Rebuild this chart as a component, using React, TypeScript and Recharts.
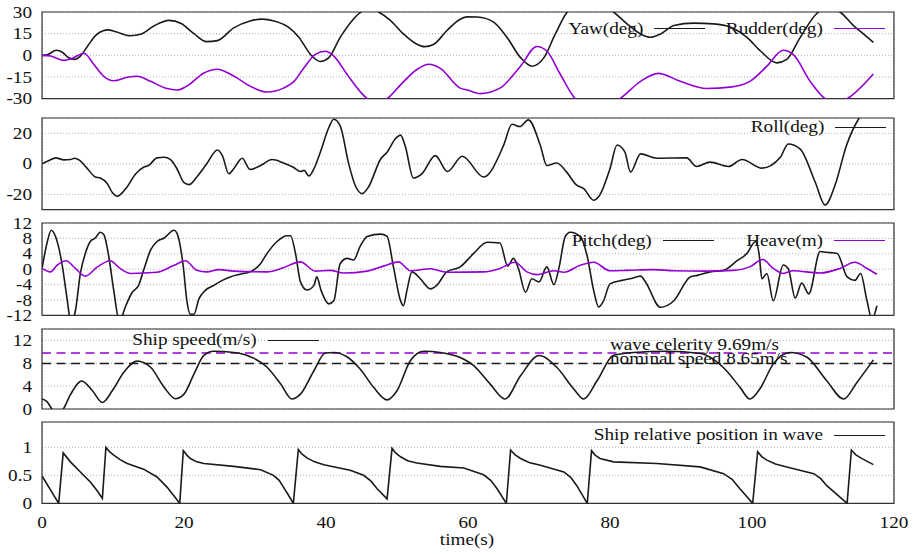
import React from 'react';
import { LineChart, Line, XAxis, YAxis, CartesianGrid, ReferenceArea, ReferenceLine } from 'recharts';

type P = [number, number];

// ---------- data (time s, value) ----------
const timeTicks = [0, 20, 40, 60, 80, 100, 120];
const yawTicks = [-30, -15, 0, 15, 30];
const rollTicks = [-20, 0, 20];
const pitchTicks = [-12, -8, -4, 0, 4, 8, 12];
const speedTicks = [0, 4, 8, 12];
const posTicks = [0, 0.5, 1];

const yawDeg: P[] = [
  [0, 0], [0.8, 0.5], [2.0, 3.5], [2.9, 2], [3.7, -1.5], [4.6, -2.8], [5.4, -0.5], [6.5, 7], [7.6, 14], [8.6, 17],
  [9.3, 17.6], [10.4, 16.3], [12.4, 13.6], [14.0, 14.8], [15.8, 20.5], [17.9, 24.2], [19.6, 22], [21.4, 15], [23.2, 9.5],
  [24.7, 10.2], [27.0, 19], [29.3, 23.8], [31.0, 25.1], [32.7, 23.8], [34.7, 19.5], [36.2, 12.4], [37.8, 0.7], [39.2, -4.3],
  [40.4, -1.6], [42.0, 12.4], [43.7, 24.1], [44.8, 29.5], [46.1, 32.5], [47.4, 30], [49.1, 24.1], [50.9, 14.8], [52.8, 7.7],
  [53.9, 6], [55.2, 7.7], [57.0, 17], [58.9, 25], [59.9, 26.6], [61.3, 26.5], [63.6, 23], [65.5, 12.4], [67.4, -1.6],
  [69.0, -7.5], [70.7, -1.6], [72.3, 14.8], [73.9, 29.5], [75.5, 36], [77.2, 38], [79.0, 35], [80.5, 30], [82.4, 21.8],
  [84.3, 14.8], [85.7, 12.5], [87.2, 15], [89.0, 20.6], [91.8, 22.3], [94.6, 21.8], [97.0, 19.5], [99.3, 12.4], [101.2, 3],
  [103.5, -5.2], [104.9, -2.8], [106.8, 12.4], [109.1, 28.8], [110.8, 33], [112.4, 30], [114.3, 20.6], [115.7, 14.8], [117.1, 8.9],
];
const rudderDeg: P[] = [
  [0, 0], [1.2, -0.5], [3.1, -3.5], [4.2, -2.2], [5.9, 1.5], [7.3, -6.3], [8.7, -14.5], [10.1, -17.6], [12.0, -15.2],
  [13.4, -14.5], [15.3, -18], [17.6, -23], [19.0, -24], [20.4, -21.3], [22.8, -12.2], [24.7, -9.6], [27.0, -14.3],
  [29.3, -21.3], [31.7, -25.4], [34.0, -22.7], [35.5, -18], [36.9, -8.6], [38.5, 0.7], [39.9, 2.8], [41.1, -0.5],
  [43.0, -13.4], [44.8, -25], [45.8, -30], [47.2, -33], [48.6, -30], [50.5, -20.4], [52.8, -9.8], [54.5, -6.2], [56.1, -9],
  [58.9, -22.7], [59.9, -24], [61.7, -26.5], [64.5, -22.7], [67.4, -7.5], [69.7, 6.1], [71.1, 3], [73.0, -13.1], [75.1, -30],
  [78.2, -38], [81.4, -30], [84.3, -18], [86.8, -12.5], [89.9, -18], [93.6, -23], [96.9, -22], [99.7, -18], [102.1, -7.5],
  [104.4, 3.5], [105.8, 0.7], [108.2, -18], [110.3, -30], [111.9, -33], [113.4, -30], [117.1, -12.9],
];
const rollDeg: P[] = [
  [0, 0], [1.0, 2.2], [1.9, 3.9], [3.1, 2.6], [4.0, 2.8], [4.6, 3.7], [5.2, 2.6], [6.4, -3.2], [7.5, -8.6], [8.2, -9.3],
  [9.2, -13], [9.9, -18.8], [10.6, -21.2], [11.8, -16.2], [13.2, -6.5], [14.3, -2.2], [15.0, -1.1], [16.2, 3.9], [17.2, 4.3],
  [18.1, 2.8], [19.0, -3.2], [20.0, -12.3], [20.7, -13.6], [21.8, -8.6], [23.2, 0], [24.7, 9.1], [25.4, 5.4], [26.3, -6.5],
  [27.0, -3.2], [28.2, 3.7], [29.3, -3.7], [30.8, -1.1], [32.4, 2.8], [34.0, 0.6], [35.4, -2.2], [36.4, -5], [36.9, -4.3],
  [37.6, -8], [38.3, -3.2], [39.2, 7.6], [40.4, 23.8], [41.1, 29.2], [42.0, 24.9], [43.2, 0], [44.1, -14], [45.1, -19.5],
  [46.0, -15], [47.7, 3.2], [48.6, 7.6], [49.8, 16.6], [50.5, 18.8], [51.2, 10.8], [52.3, -9.3], [53.5, -6.5], [55.4, 5.4],
  [57.1, -5], [59.2, 5], [62.2, -8.6], [65.0, 11.9], [66.2, 25.9], [67.3, 24.4], [68.5, 28.8], [70.2, 11.9], [71.1, -1.1],
  [72.5, 0.6], [73.9, -5.4], [75.3, -14], [76.3, -16.2], [77.7, -23.8], [78.4, -21.6], [80.0, -3.2], [81.0, 12.3], [82.1, 7.6],
  [82.9, -5.4], [84.3, 6.5], [86.6, 3.7], [90.8, 3.9], [92.2, -1.7], [94.1, 1.1], [96.7, -1.7], [98.6, 2.8], [101.4, -2.8],
  [104.0, 4.3], [105.1, 13], [106.8, 9.7], [108.9, -11.9], [110.3, -27], [111.7, -14], [113.3, 11.9], [115.0, 29.2],
  [116.0, 35], [117.0, 40],
];
const pitchDeg: P[] = [
  [0, 0.2], [0.7, 6.8], [1.3, 10.1], [1.9, 8.5], [2.8, 1.5], [3.5, -7.3], [4.1, -14], [4.7, -10.8], [5.4, -1.1], [6.1, 4.1],
  [6.8, 7.2], [7.5, 8.1], [8.2, 9.6], [8.7, 9], [9.4, 3.3], [10.1, -5.5], [10.9, -13.5], [11.8, -9.5], [12.7, -6], [13.6, -4.2],
  [14.3, -0.3], [15.3, 5], [16.2, 7.2], [17.2, 8.1], [18.6, 10.1], [19.0, 9.4], [19.9, 0.6], [20.4, -8.2], [20.9, -11.7],
  [21.4, -11.7], [22.1, -7.7], [23.0, -5.5], [24.2, -4.2], [25.4, -2.9], [26.5, -2], [27.9, -1.3], [29.3, -0.7], [30.8, 1.5],
  [31.7, 4.1], [33.1, 7.2], [34.5, 8.7], [35.0, 8.7], [35.7, 4.1], [36.4, -3.3], [37.3, -5.4], [38.3, -4.2], [38.7, -2],
  [39.3, -5.5], [40.4, -9], [41.1, -8.2], [42.0, 1.5], [43.0, 2.8], [43.9, 2.4], [44.8, 5.9], [45.8, 8.5], [47.7, 9.1],
  [48.6, 8.5], [49.5, 0.6], [50.5, -8.2], [50.9, -9.5], [51.4, -5.5], [52.1, -0.7], [53.3, -2.5], [54.7, -5.1], [55.6, -4.2],
  [57.0, -0.7], [58.9, 0.6], [60.8, 4.1], [62.7, 7], [64.5, 6.8], [65.6, 0.8], [66.4, 2.8], [67.1, 0.2], [68.1, -6], [69.0, -2.5],
  [70.0, -3.3], [71.1, 0.6], [72.1, -4], [72.8, 0.2], [73.7, 8.5], [74.4, 9.6], [75.8, 8.5], [76.8, 3.3], [77.7, -5.5],
  [78.4, -9.8], [79.1, -8.2], [80.0, -3.8], [81.7, -2.9], [82.8, -2.5], [84.3, -1.8], [85.0, -3.3], [87.1, -9.9], [89.0, -8.2],
  [91.3, -2], [92.3, -1.6], [94.1, -0.7], [96.0, -0.3], [97.9, 2.2], [99.3, 4.1], [100.5, 7.2], [101.0, 4], [101.4, -2.5],
  [102.1, -1.1], [103.0, -8.2], [104.4, 1.1], [105.1, 0.2], [106.1, -7.5], [107.0, -3.6], [108.0, -6.4], [109.6, 4.6],
  [110.5, 4.4], [112.0, 4.1], [113.4, -2], [114.5, -2.9], [115.3, -1.1], [116.2, -8.2], [116.9, -13], [117.6, -9.5],
];
const heaveM: P[] = [
  [0, 0.2], [1.2, -0.7], [2.1, 1], [3.4, 2.2], [4.7, 0.2], [6.1, -1.8], [7.8, 0.6], [9.6, 2.2], [11.0, 0.2], [12.5, -1.1],
  [16.2, -0.8], [18.6, 1], [20.2, 2.2], [21.8, -0.3], [23.2, -0.7], [24.9, -0.1], [27.0, -0.5], [31.7, -0.7], [34.0, 0.4],
  [36.4, 1.9], [38.5, -0.5], [40.6, -0.3], [42.5, -1], [45.8, -0.5], [48.1, 0.8], [50.2, 1.9], [51.9, -0.4], [54.7, 0.1],
  [57.0, -0.8], [62.2, -0.7], [64.5, 0.2], [66.6, 1.8], [68.3, -0.7], [69.7, -1.4], [72.1, -0.4], [73.5, -0.8], [75.8, 1],
  [77.7, 1.8], [80.0, -0.4], [82.4, -0.3], [86.1, -0.1], [89.0, -0.4], [93.6, -0.5], [97.4, -0.3], [99.7, 0.6], [101.5, 2.5],
  [103.0, 0.2], [104.4, -1.1], [105.8, -0.4], [109.6, -1], [112.4, 0.2], [114.5, 1.8], [116.2, 0.2], [117.6, -1.3],
];
const shipSpeed: P[] = [
  [0, 1.75], [0.7, 1.3], [1.4, 0], [2.2, -0.8], [3.0, 0], [4.0, 2.5], [5.6, 4.9], [7.1, 3.2], [8.5, 1.15], [9.9, 3.2],
  [11.5, 6.4], [13.4, 8.4], [15.3, 7.3], [17.2, 3.8], [18.8, 1.8], [20.0, 2.6], [21.4, 6.1], [22.8, 9.4], [24.2, 10.1],
  [27.0, 9.9], [29.8, 8.9], [31.7, 7.3], [33.6, 4.4], [35.2, 1.75], [36.4, 2.6], [38.3, 6.7], [39.9, 9.8], [41.1, 9.9],
  [43.0, 9.1], [44.8, 7], [46.7, 3.8], [48.6, 1.6], [50.0, 3.2], [51.9, 8.5], [53.8, 10.1], [56.1, 9.9], [58.9, 9], [60.8, 7.6],
  [63.1, 4.4], [65.2, 1.75], [67.4, 5.8], [70.0, 9.35], [72.5, 7.3], [74.9, 3.5], [76.3, 1.75], [78.2, 5], [80.5, 9.4],
  [83.3, 9.9], [88.0, 10.1], [92.7, 9.7], [96.4, 6.7], [98.3, 3.8], [99.7, 1.75], [101.1, 3.5], [103.0, 7.9], [105.4, 9.9],
  [107.7, 9.1], [110.5, 5], [112.9, 1.75], [114.8, 4.7], [117.1, 8.6],
];
const relPosition: P[] = [
  [0, 0.49], [2.35, 0], [2.98, 0.9], [4.0, 0.74], [5.4, 0.56], [6.8, 0.38], [7.8, 0.22], [8.5, 0.09], [9.0, 1.0], [9.5, 0.92],
  [10.1, 0.86], [11.0, 0.78], [12.0, 0.71], [14.3, 0.61], [16.2, 0.47], [17.6, 0.29], [18.6, 0.13], [19.4, 0], [19.9, 0.94],
  [20.4, 0.86], [20.9, 0.8], [21.8, 0.74], [22.8, 0.71], [27.0, 0.66], [30.8, 0.6], [32.6, 0.5], [33.4, 0.41], [34.0, 0.29],
  [34.7, 0.15], [35.4, 0], [36.1, 0.96], [36.6, 0.88], [37.3, 0.81], [38.4, 0.74], [39.7, 0.69], [43.4, 0.59], [45.3, 0.5],
  [46.3, 0.4], [47.2, 0.26], [48.6, 0.08], [49.3, 0.98], [49.8, 0.9], [50.5, 0.83], [51.5, 0.76], [52.8, 0.72], [56.1, 0.66],
  [59.4, 0.63], [62.2, 0.51], [63.2, 0.41], [64.1, 0.26], [65.4, 0], [66.0, 0.95], [66.6, 0.87], [67.4, 0.8], [68.6, 0.73],
  [70.2, 0.68], [73.5, 0.56], [74.5, 0.46], [75.3, 0.32], [76.8, 0], [77.4, 0.94], [77.9, 0.86], [78.6, 0.8], [80.5, 0.74],
  [86.6, 0.71], [92.7, 0.65], [96.0, 0.53], [97.2, 0.43], [98.3, 0.26], [100.1, 0], [100.8, 0.92], [101.4, 0.83],
  [102.1, 0.77], [103.3, 0.7], [104.9, 0.65], [108.7, 0.53], [109.7, 0.44], [110.5, 0.32], [113.4, 0], [114.0, 0.95],
  [114.6, 0.87], [115.3, 0.81], [117.1, 0.69],
];
const waveCelerity = 9.8;
const nominalSpeed = 7.95;

// ---------- styling ----------
const FONT = '"Liberation Serif", "Times New Roman", serif';
const SX = 1.2;
const BLACK = '#1a1a1a';
const PURPLE = '#9400d3';
const W = 919;
const PLOT_RIGHT = 894;

const toPts = (a: P[]) => a.map(([t, v]) => ({ t, v }));

function STxt({ x, y, anchor = 'start', dy, children }: any) {
  return (
    <text transform={`translate(${x},${y}) scale(${SX},1)`} textAnchor={anchor} dy={dy}
      fontFamily={FONT} fontSize={16} fill="#111">{children}</text>
  );
}
const YTick = (p: any) => <STxt x={p.x} y={p.y} anchor="end" dy="0.35em">{String(p.payload.value)}</STxt>;
const XTick = (p: any) => <STxt x={p.x} y={p.y} anchor="middle" dy="0.71em">{String(p.payload.value)}</STxt>;
const RefLabel = (p: any) => {
  const vb = p.viewBox || { x: 0, y: 0 };
  return <STxt x={vb.x + 568} y={vb.y + (p.off || 0)}>{p.text}</STxt>;
};

type Series = { name: string; data: P[]; color: string; curve: 'monotone' | 'linear' };

function Panel({ top, bottom, domain, ticks, series, last, children }: any) {
  const padT = 10;
  const padB = last ? 50 : 10;
  const axisH = last ? 2 : 1;
  const h = bottom - top;
  return (
    <div style={{ position: 'absolute', left: 0, top: top - padT }}>
      <LineChart width={W} height={h + padT + padB}
        margin={{ top: padT, bottom: padB - axisH, left: 0, right: W - PLOT_RIGHT }}>
        <CartesianGrid stroke="#b0b0b0" strokeDasharray="1 2" strokeWidth={1} />
        <XAxis type="number" dataKey="t" domain={[0, 120]} ticks={timeTicks} interval={0} allowDataOverflow
          height={1} mirror axisLine={false} tickSize={8} tickLine={{ stroke: '#333', strokeWidth: 1.2 }} tick={false} />
        {last && (
          <XAxis xAxisId="labels" type="number" dataKey="t" domain={[0, 120]} ticks={timeTicks} interval={0}
            allowDataOverflow height={1} axisLine={false} tickLine={false} tickSize={0} tickMargin={13}
            tick={<XTick />} />
        )}
        <YAxis type="number" domain={domain} ticks={ticks} interval={0} allowDataOverflow width={42}
          axisLine={false} tickLine={false} tickSize={0} tickMargin={10} tick={<YTick />} />
        {children}
        {(series as Series[]).map((s) => (
          <Line key={s.name} name={s.name} data={toPts(s.data)} dataKey="v" type={s.curve} stroke={s.color}
            strokeWidth={1.6} dot={false} activeDot={false} isAnimationActive={false} />
        ))}
        <ReferenceArea x1={0} x2={120} y1={domain[0]} y2={domain[1]} fill="none" stroke="#333"
          strokeWidth={1.2} ifOverflow="visible" />
      </LineChart>
    </div>
  );
}

function Key({ right, y, label, color }: { right: number; y: number; label: string; color: string }) {
  return (
    <>
      <div style={{
        position: 'absolute', right: W - right, top: y - 8.4, fontFamily: FONT, fontSize: 16, lineHeight: '16px',
        whiteSpace: 'nowrap', transform: `scaleX(${SX})`, transformOrigin: 'right center', color: '#111',
      }}>{label}</div>
      <div style={{ position: 'absolute', left: right + 11, top: y - 0.8, width: 51, height: 0, borderTop: `1.6px solid ${color}` }} />
    </>
  );
}

export default function App() {
  return (
    <div style={{ position: 'absolute', left: 0, top: 0, width: W, height: 554, background: '#fff', overflow: 'hidden' }}>
      <Panel top={12.3} bottom={98} domain={[-30, 30]} ticks={yawTicks}
        series={[
          { name: 'Yaw(deg)', data: yawDeg, color: BLACK, curve: 'monotone' },
          { name: 'Rudder(deg)', data: rudderDeg, color: PURPLE, curve: 'monotone' },
        ]} />
      <Panel top={118.3} bottom={209} domain={[-30, 30]} ticks={rollTicks}
        series={[{ name: 'Roll(deg)', data: rollDeg, color: BLACK, curve: 'monotone' }]} />
      <Panel top={223.3} bottom={314.7} domain={[-12, 12]} ticks={pitchTicks}
        series={[
          { name: 'Pitch(deg)', data: pitchDeg, color: BLACK, curve: 'monotone' },
          { name: 'Heave(m)', data: heaveM, color: PURPLE, curve: 'monotone' },
        ]} />
      <Panel top={329.3} bottom={408.3} domain={[0, 14]} ticks={speedTicks}
        series={[{ name: 'Ship speed(m/s)', data: shipSpeed, color: BLACK, curve: 'monotone' }]}>
        <ReferenceLine y={waveCelerity} stroke={PURPLE} strokeWidth={1.6} strokeDasharray="9 5.5"
          label={<RefLabel text="wave celerity 9.69m/s" off={-3} />} />
        <ReferenceLine y={nominalSpeed} stroke={BLACK} strokeWidth={1.6} strokeDasharray="9 5.5"
          label={<RefLabel text="nominal speed 8.65m/s" off={0} />} />
      </Panel>
      <Panel top={422.3} bottom={502.7} domain={[0, 1.45]} ticks={posTicks} last
        series={[{ name: 'Ship relative position in wave', data: relPosition, color: BLACK, curve: 'linear' }]} />

      <Key right={643} y={29} label="Yaw(deg)" color={BLACK} />
      <Key right={823} y={29} label="Rudder(deg)" color={PURPLE} />
      <Key right={824} y={127.3} label="Roll(deg)" color={BLACK} />
      <Key right={652} y={241} label="Pitch(deg)" color={BLACK} />
      <Key right={823} y={241} label="Heave(m)" color={PURPLE} />
      <Key right={257} y={340.7} label="Ship speed(m/s)" color={BLACK} />
      <Key right={823} y={435.7} label="Ship relative position in wave" color={BLACK} />

      <div style={{
        position: 'absolute', left: 467, top: 545 - 13.4, fontFamily: FONT, fontSize: 16, lineHeight: '16px',
        whiteSpace: 'nowrap', transform: `translateX(-50%) scaleX(${SX})`, color: '#111',
      }}>time(s)</div>
    </div>
  );
}
